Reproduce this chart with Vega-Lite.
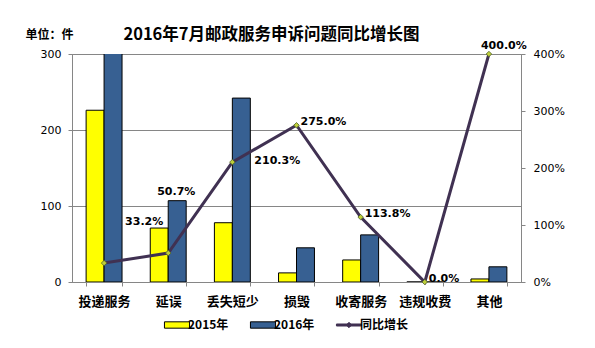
{
  "$schema": "https://vega.github.io/schema/vega-lite/v6.json",
  "width": 449,
  "height": 228,
  "autosize": "none",
  "padding": {"left": 72, "top": 54, "right": 74, "bottom": 66},
  "background": "white",
  "config": {
    "view": {"stroke": "#868686", "strokeWidth": 1},
    "axis": {
      "domainColor": "#868686",
      "tickColor": "#868686",
      "gridColor": "#868686",
      "tickSize": 4,
      "labelColor": "#000000",
      "labelFont": "DejaVu Sans",
      "labelFontSize": 11
    }
  },
  "title": {
    "text": "2016年7月邮政服务申诉问题同比增长图",
    "font": "Noto Sans CJK SC",
    "fontSize": 16.5,
    "fontWeight": "bold",
    "color": "#000000",
    "anchor": "middle",
    "dx": -25,
    "dy": 28,
    "offset": 13
  },
  "datasets": {
    "bars": [
      {"category": "投递服务", "series": "2015年", "count": 226},
      {"category": "投递服务", "series": "2016年", "count": 301},
      {"category": "延误", "series": "2015年", "count": 71},
      {"category": "延误", "series": "2016年", "count": 107},
      {"category": "丢失短少", "series": "2015年", "count": 78},
      {"category": "丢失短少", "series": "2016年", "count": 242},
      {"category": "损毁", "series": "2015年", "count": 12},
      {"category": "损毁", "series": "2016年", "count": 45},
      {"category": "收寄服务", "series": "2015年", "count": 29},
      {"category": "收寄服务", "series": "2016年", "count": 62},
      {"category": "违规收费", "series": "2015年", "count": 0},
      {"category": "违规收费", "series": "2016年", "count": 0},
      {"category": "其他", "series": "2015年", "count": 4},
      {"category": "其他", "series": "2016年", "count": 20}
    ],
    "growth": [
      {"category": "投递服务", "growth": 0.332},
      {"category": "延误", "growth": 0.507},
      {"category": "丢失短少", "growth": 2.103},
      {"category": "损毁", "growth": 2.75},
      {"category": "收寄服务", "growth": 1.138},
      {"category": "违规收费", "growth": 0.0},
      {"category": "其他", "growth": 4.0}
    ]
  },
  "layer": [
    {
      "data": {"name": "bars"},
      "mark": {"type": "bar", "stroke": "#000000", "strokeWidth": 1, "clip": true},
      "encoding": {
        "x": {
          "field": "category",
          "type": "nominal",
          "sort": ["投递服务", "延误", "丢失短少", "损毁", "收寄服务", "违规收费", "其他"],
          "scale": {"paddingInner": 0.44, "paddingOuter": 0.22},
          "axis": {
            "title": null,
            "labelAngle": 0,
            "labelFont": "Noto Sans CJK SC",
            "labelFontSize": 13,
            "labelFontWeight": "bold",
            "labelPadding": 9,
            "tickBand": "extent"
          }
        },
        "xOffset": {"field": "series", "type": "nominal", "sort": ["2015年", "2016年"]},
        "y": {
          "field": "count",
          "type": "quantitative",
          "scale": {"domain": [0, 300], "nice": false},
          "axis": {
            "values": [0, 100, 200, 300],
            "grid": true,
            "labelPadding": 7,
            "title": "单位：件",
            "titleAngle": 0,
            "titleX": -47,
            "titleY": -20,
            "titleAlign": "left",
            "titleBaseline": "middle",
            "titleFont": "Noto Sans CJK SC",
            "titleFontSize": 12,
            "titleFontWeight": "bold",
            "titleColor": "#000000"
          }
        },
        "color": {
          "field": "series",
          "type": "nominal",
          "scale": {
            "domain": ["2015年", "2016年", "同比增长"],
            "range": ["#FFFF00", "#376092", "#403152"]
          },
          "legend": {
            "orient": "none",
            "legendX": 96,
            "legendY": 262,
            "direction": "horizontal",
            "title": null,
            "labelFont": "Noto Sans CJK SC",
            "labelFontSize": 12,
            "labelFontWeight": "bold",
            "labelColor": "#000000",
            "labelOffset": 2,
            "columnPadding": 19,
            "symbolSize": 280,
            "symbolType": "M-1.5,-0.38H1.5V0.38H-1.5Z",
            "symbolStrokeColor": "#000000",
            "symbolStrokeWidth": 1,
            "encode": {
              "symbols": {
                "enter": {
                  "shape": {"signal": "datum.value === '同比增长' ? 'M-1.5,-0.12H1.5V0.12H-1.5Z M0,-0.32L0.32,0L0,0.32L-0.32,0Z' : 'M-1.5,-0.38H1.5V0.38H-1.5Z'"}
                },
                "update": {
                  "shape": {"signal": "datum.value === '同比增长' ? 'M-1.5,-0.12H1.5V0.12H-1.5Z M0,-0.32L0.32,0L0,0.32L-0.32,0Z' : 'M-1.5,-0.38H1.5V0.38H-1.5Z'"},
                  "stroke": {"signal": "datum.value === '同比增长' ? '#403152' : '#000000'"}
                }
              }
            }
          }
        }
      }
    },
    {
      "data": {"name": "growth"},
      "encoding": {
        "x": {
          "field": "category",
          "type": "nominal",
          "sort": ["投递服务", "延误", "丢失短少", "损毁", "收寄服务", "违规收费", "其他"]
        },
        "y": {
          "field": "growth",
          "type": "quantitative",
          "scale": {"domain": [0, 4], "nice": false},
          "axis": {
            "orient": "right",
            "values": [0, 1, 2, 3, 4],
            "format": ".0%",
            "grid": false,
            "labelPadding": 8,
            "title": null
          }
        },
        "text": {"field": "growth", "type": "quantitative", "format": ".1%"}
      },
      "layer": [
        {"mark": {"type": "line", "color": "#403152", "strokeWidth": 3}},
        {"mark": {"type": "point", "shape": "diamond", "filled": true, "fill": "#BFCF3A", "stroke": "#4F6228", "strokeWidth": 0.8, "size": 30, "opacity": 1}},
        {
          "transform": [{"filter": "datum.category === '投递服务'"}],
          "mark": {"type": "text", "font": "DejaVu Sans", "fontSize": 11, "fontWeight": "bold", "color": "#000000", "align": "left", "baseline": "middle", "dx": 21, "dy": -41}
        },
        {
          "transform": [{"filter": "datum.category === '延误'"}],
          "mark": {"type": "text", "font": "DejaVu Sans", "fontSize": 11, "fontWeight": "bold", "color": "#000000", "align": "left", "baseline": "middle", "dx": -11, "dy": -61}
        },
        {
          "transform": [{"filter": "datum.category === '丢失短少'"}],
          "mark": {"type": "text", "font": "DejaVu Sans", "fontSize": 11, "fontWeight": "bold", "color": "#000000", "align": "left", "baseline": "middle", "dx": 22, "dy": -1}
        },
        {
          "transform": [{"filter": "datum.category === '损毁' || datum.category === '收寄服务' || datum.category === '违规收费'"}],
          "mark": {"type": "text", "font": "DejaVu Sans", "fontSize": 11, "fontWeight": "bold", "color": "#000000", "align": "left", "baseline": "middle", "dx": 4, "dy": -3}
        },
        {
          "transform": [{"filter": "datum.category === '其他'"}],
          "mark": {"type": "text", "font": "DejaVu Sans", "fontSize": 11, "fontWeight": "bold", "color": "#000000", "align": "left", "baseline": "middle", "dx": -8, "dy": -8}
        }
      ]
    }
  ],
  "resolve": {"scale": {"y": "independent"}}
}
